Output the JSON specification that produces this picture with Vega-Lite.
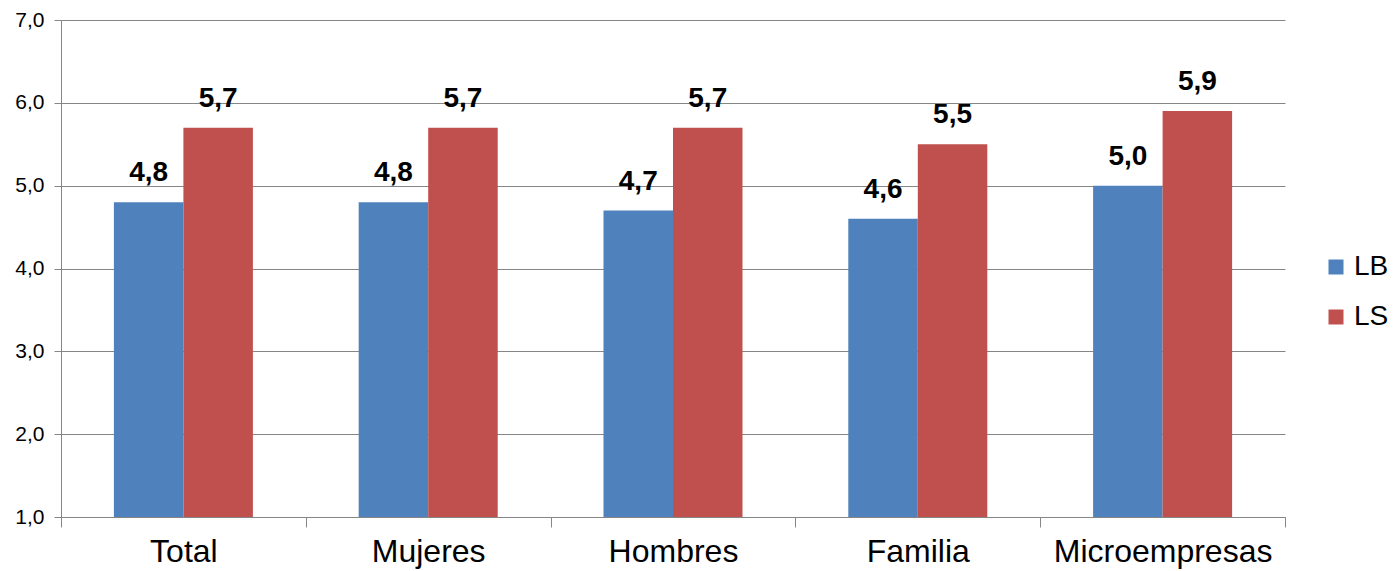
{
  "$schema": "https://vega.github.io/schema/vega-lite/v6.json",
  "autosize": {"type": "none"},
  "padding": {"left": 61, "top": 20, "right": 112, "bottom": 54},
  "width": 1224,
  "height": 497,
  "background": "white",
  "config": {
    "locale": {"number": {"decimal": ",", "thousands": ".", "grouping": [3], "currency": ["", " €"]}},
    "font": "Liberation Sans",
    "view": {"stroke": null}
  },
  "data": {
    "values": [
      {"grupo": "Total", "serie": "LB", "valor": 4.8},
      {"grupo": "Total", "serie": "LS", "valor": 5.7},
      {"grupo": "Mujeres", "serie": "LB", "valor": 4.8},
      {"grupo": "Mujeres", "serie": "LS", "valor": 5.7},
      {"grupo": "Hombres", "serie": "LB", "valor": 4.7},
      {"grupo": "Hombres", "serie": "LS", "valor": 5.7},
      {"grupo": "Familia", "serie": "LB", "valor": 4.6},
      {"grupo": "Familia", "serie": "LS", "valor": 5.5},
      {"grupo": "Microempresas", "serie": "LB", "valor": 5.0},
      {"grupo": "Microempresas", "serie": "LS", "valor": 5.9}
    ]
  },
  "encoding": {
    "x": {
      "field": "grupo", "type": "nominal", "sort": null,
      "scale": {"paddingInner": 0, "paddingOuter": 0},
      "axis": {
        "title": null, "labelAngle": 0, "labelFontSize": 32, "labelColor": "#000000",
        "labelFont": "Liberation Sans", "labelPadding": 9, "labelLimit": 0,
        "tickBand": "extent", "tickSize": 10, "tickColor": "#868686",
        "domainColor": "#868686", "grid": false
      }
    },
    "xOffset": {"field": "serie", "type": "nominal", "scale": {"paddingInner": 0, "paddingOuter": 0.761}},
    "y": {
      "field": "valor", "type": "quantitative",
      "scale": {"domain": [1, 7], "zero": false, "nice": false},
      "axis": {
        "title": null, "values": [1, 2, 3, 4, 5, 6, 7], "format": ".1f",
        "labelFontSize": 21, "labelColor": "#000000", "labelFont": "Liberation Sans",
        "labelPadding": 10, "tickSize": 7, "tickColor": "#868686",
        "domainColor": "#868686", "gridColor": "#868686", "gridWidth": 1
      }
    }
  },
  "layer": [
    {
      "mark": {"type": "bar", "width": {"band": 1}},
      "encoding": {
        "y2": {"datum": 1},
        "color": {
          "field": "serie", "type": "nominal",
          "scale": {"domain": ["LB", "LS"], "range": ["#4F81BD", "#C0504D"]},
          "legend": {
            "title": null, "orient": "none", "legendX": 1261, "legendY": 233,
            "symbolType": "square", "symbolSize": 225, "symbolStrokeWidth": 0,
            "labelFontSize": 28, "labelColor": "#000000", "labelFont": "Liberation Sans",
            "labelOffset": 4, "rowPadding": 22
          }
        }
      }
    },
    {
      "mark": {"type": "text", "baseline": "alphabetic", "dy": -21, "fontSize": 28, "fontWeight": "bold", "font": "Liberation Sans", "color": "#000000"},
      "encoding": {
        "text": {"field": "valor", "type": "quantitative", "format": ".1f"}
      }
    }
  ]
}
